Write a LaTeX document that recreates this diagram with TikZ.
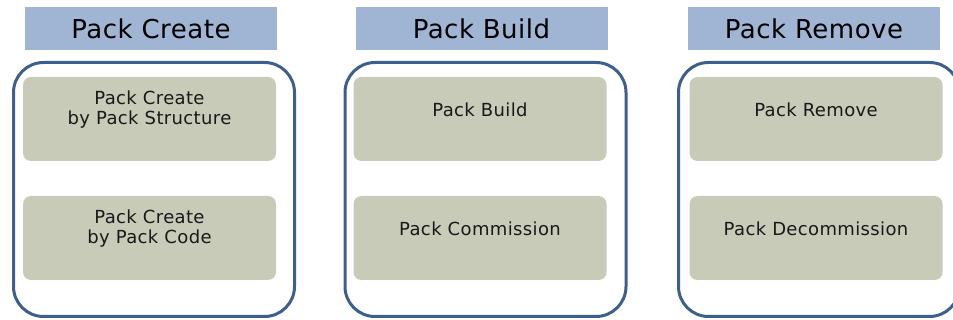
\documentclass[tikz,border=0pt]{standalone}
\usepackage{fontspec}
\setmainfont{DejaVu Sans}
\usepackage{tikz}
\usetikzlibrary{positioning}

\definecolor{headblue}{HTML}{9FB5D3}
\definecolor{frameblue}{HTML}{3D5F8F}
\definecolor{itemgray}{HTML}{C8CBB8}

\begin{document}
\begin{tikzpicture}[x=1pt,y=-1pt,
		headbox/.style={fill=headblue, minimum width=252pt, minimum height=43pt, inner sep=0pt,
			font={\fontsize{26}{31}\selectfont\addfontfeature{LetterSpace=2}}},
		groupbox/.style={draw=frameblue, line width=3pt, rounded corners=30pt,
			minimum width=281pt, minimum height=254pt},
		itembox/.style={fill=itemgray, rounded corners=8pt, minimum width=253pt,
			minimum height=84pt, inner sep=0pt},
		itemtext/.style={align=center, text=black!90,
			font={\fontsize{18}{20}\selectfont\addfontfeature{LetterSpace=2}}}]
	\useasboundingbox (0,0) rectangle (953,320);

	% one column per stage: header, frame, two steps
	\foreach \i/\hx/\gx/\bx/\hd/\tA/\tB in {
		1/151/154/149.5/Pack Create/{Pack Create\\by Pack Structure}/{Pack Create\\by Pack Code},
		2/481.5/485.5/480/Pack Build/Pack Build/Pack Commission,
		3/814/819/816/Pack Remove/Pack Remove/Pack Decommission}{
		\node[headbox] (head\i) at (\hx,28.5) {\hd};
		\node[groupbox] (group\i) at (\gx,189.5) {};
		\node[itembox] (first\i) at (\bx,119) {};
		\node[itembox] (second\i) at (\bx,238) {};
		\node[itemtext] (firsttext\i) at ([yshift=9pt]first\i.center) {\tA};
		\node[itemtext] (secondtext\i) at ([yshift=9pt]second\i.center) {\tB};
	}

\end{tikzpicture}
\end{document}
